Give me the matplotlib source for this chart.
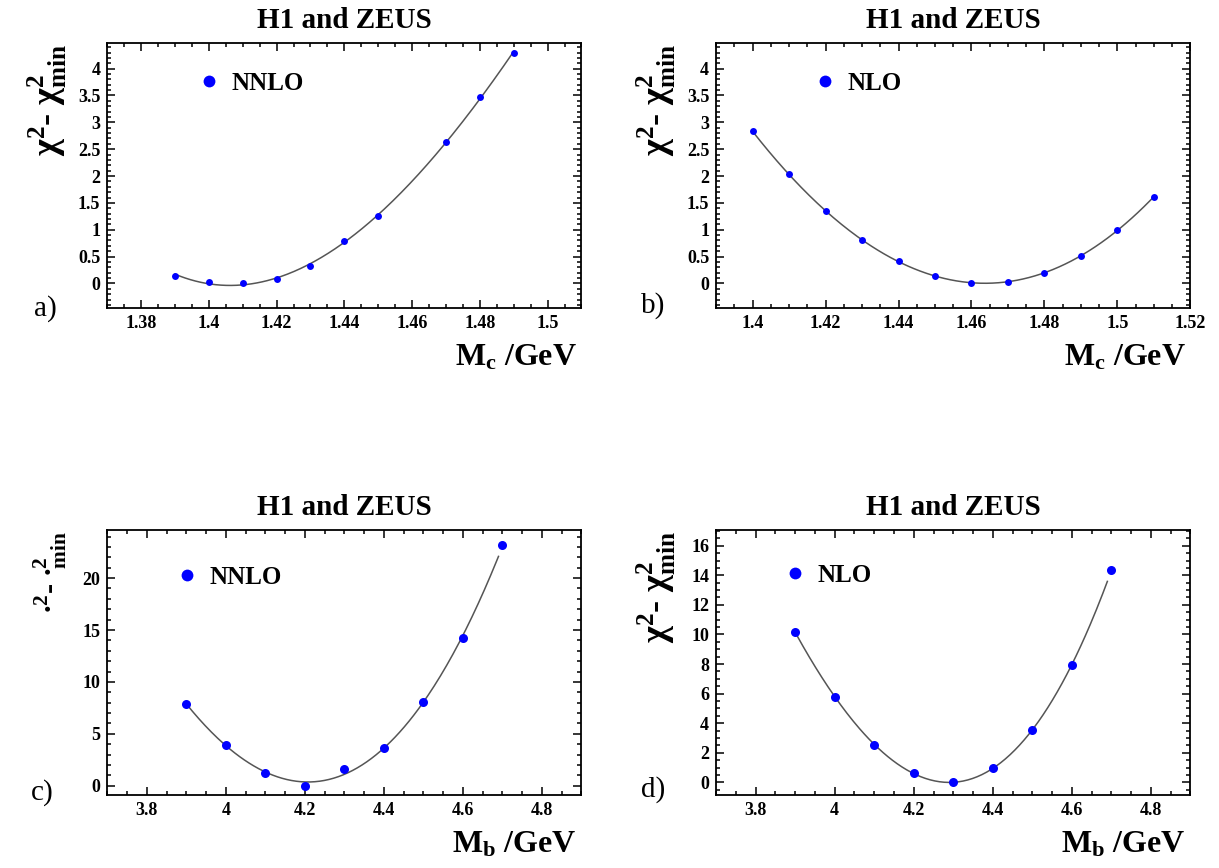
import numpy as np
import matplotlib
matplotlib.use('Agg')
import matplotlib.pyplot as plt
from matplotlib.ticker import MultipleLocator, FuncFormatter

plt.rcParams['font.family'] = ['Liberation Serif', 'DejaVu Serif']
plt.rcParams['font.weight'] = 'bold'
plt.rcParams['axes.labelweight'] = 'bold'
plt.rcParams['axes.titleweight'] = 'bold'
plt.rcParams['mathtext.fontset'] = 'custom'
plt.rcParams['mathtext.rm'] = 'Liberation Serif:bold'
plt.rcParams['mathtext.it'] = 'Liberation Serif:italic:bold'
plt.rcParams['mathtext.bf'] = 'Liberation Serif:bold'
plt.rcParams['mathtext.default'] = 'rm'

# chi^2 - chi^2_min scans
mc_nnlo = [1.39, 1.40, 1.41, 1.42, 1.43, 1.44, 1.45, 1.47, 1.48, 1.49]
chi_mc_nnlo = [0.14, 0.03, 0.01, 0.09, 0.32, 0.79, 1.26, 2.63, 3.48, 4.29]

mc_nlo = [1.40, 1.41, 1.42, 1.43, 1.44, 1.45, 1.46, 1.47, 1.48, 1.49, 1.50, 1.51]
chi_mc_nlo = [2.83, 2.03, 1.35, 0.81, 0.41, 0.14, 0.01, 0.03, 0.20, 0.51, 1.00, 1.61]

mb_nnlo = [3.9, 4.0, 4.1, 4.2, 4.3, 4.4, 4.5, 4.6, 4.7]
chi_mb_nnlo = [7.9, 3.95, 1.22, 0.0, 1.6, 3.66, 8.03, 14.2, 23.2]

mb_nlo = [3.9, 4.0, 4.1, 4.2, 4.3, 4.4, 4.5, 4.6, 4.7]
chi_mb_nlo = [10.16, 5.78, 2.53, 0.65, 0.0, 0.95, 3.54, 7.94, 14.33]

chi_label = r'$\chi^{2}$- $\chi^{2}_{min}$'
bad_label = r'$\bullet^{2}$- $\bullet^{2}_{min}$'   # as printed in panel c

panels = [
    # x, y, order, tag, xlabel, xlim, ylim, xmaj, xmin, ymaj, ymin, ms, legend anchor, ylabel
    (mc_nnlo, chi_mc_nnlo, 'NNLO', 'a)', r'$M_c$ /GeV', (1.37, 1.51), (-0.46, 4.47),
     0.02, 0.005, 0.5, 0.1, 5, (0.194, 0.849), chi_label),
    (mc_nlo, chi_mc_nlo, 'NLO', 'b)', r'$M_c$ /GeV', (1.39, 1.52), (-0.46, 4.47),
     0.02, 0.005, 0.5, 0.1, 5, (0.208, 0.849), chi_label),
    (mb_nnlo, chi_mb_nnlo, 'NNLO', 'c)', r'$M_b$ /GeV', (3.7, 4.9), (-0.9, 24.6),
     0.2, 0.05, 5, 1, 6.5, (0.146, 0.822), bad_label),
    (mb_nlo, chi_mb_nlo, 'NLO', 'd)', r'$M_b$ /GeV', (3.7, 4.9), (-0.86, 17.04),
     0.2, 0.05, 2, 0.5, 6.5, (0.145, 0.830), chi_label),
]

rects = [[0.088, 0.645, 0.389, 0.305], [0.5875, 0.645, 0.389, 0.305],
         [0.088, 0.084, 0.389, 0.305], [0.5875, 0.084, 0.389, 0.305]]
tag_pos = [(34, 322), (641, 319), (31, 806), (641, 803)]

fig = plt.figure(figsize=(12.19, 8.68), dpi=100)
fmt = FuncFormatter(lambda v, p: f'{round(v, 4):g}')

for rect, tp, (x, y, order, tag, xlab, xl, yl, xM, xm, yM, ym, ms, anc, ylab) in zip(rects, tag_pos, panels):
    ax = fig.add_axes(rect)
    # cubic fit through the points
    coef = np.polyfit(x, y, 3)
    xend = x[-1] - 0.01 if xM > 0.1 else x[-1]
    xx = np.linspace(x[0], xend, 200)
    ax.plot(xx, np.polyval(coef, xx), color='#555555', lw=1.1, zorder=2)
    ax.plot(x, y, 'o', color='#0000ff', ms=ms, mec='none', label=order, zorder=3)

    ax.set_xlim(*xl)
    ax.set_ylim(*yl)
    ax.xaxis.set_major_locator(MultipleLocator(xM))
    ax.xaxis.set_minor_locator(MultipleLocator(xm))
    ax.yaxis.set_major_locator(MultipleLocator(yM))
    ax.yaxis.set_minor_locator(MultipleLocator(ym))
    ax.xaxis.set_major_formatter(fmt)
    ax.yaxis.set_major_formatter(fmt)
    ax.tick_params(which='both', direction='in', top=True, right=True, width=1.1, labelsize=13)
    ax.tick_params(which='major', length=6)
    ax.tick_params(which='minor', length=3)
    ax.tick_params(axis='x', pad=5)
    ax.tick_params(axis='y', pad=5)
    for s in ax.spines.values():
        s.set_linewidth(1.3)

    ax.set_title('H1 and ZEUS', fontsize=21, pad=11)
    ax.set_xlabel(xlab, fontsize=23, loc='right')
    ax.xaxis.set_label_coords(0.99, -0.13)
    ax.set_ylabel(ylab, fontsize=26 if tag != 'c)' else 22, loc='top')
    ax.yaxis.set_label_coords(-0.08, 1.0)

    ax.legend(loc='center left', bbox_to_anchor=anc, frameon=False,
              handlelength=0.8, handletextpad=0.5, borderpad=0, borderaxespad=0,
              markerscale=8.5 / ms, prop={'size': 18, 'weight': 'bold'})

    fig.text(tp[0] / 1219, 1 - tp[1] / 868, tag, fontsize=21, fontweight='normal',
             va='bottom', ha='left')

fig.savefig('out.png', dpi=100, facecolor='white')
